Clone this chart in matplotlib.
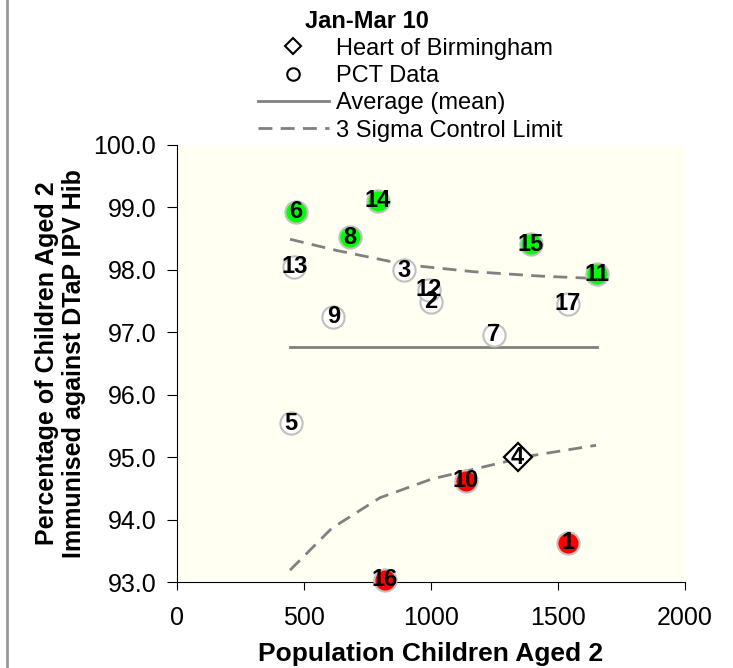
import matplotlib
matplotlib.use("Agg")
import matplotlib.pyplot as plt
from matplotlib.lines import Line2D

# PCT data: id, population aged 2, % immunised, colour class
pct_ids = [1, 2, 3, 5, 6, 7, 8, 9, 10, 11, 12, 13, 14, 15, 16, 17]
pct_pop = [1541, 1000, 895, 449, 467, 1248, 681, 615, 1137, 1652, 992, 462, 790, 1392, 819, 1538]
pct_pct = [93.63, 97.49, 97.99, 95.54, 98.93, 96.96, 98.52, 97.25, 94.62, 97.93, 97.68, 98.05, 99.11, 98.41, 93.04, 97.46]
pct_cls = ["low", "mid", "mid", "mid", "high", "mid", "high", "mid", "low", "high", "mid", "mid", "high", "high", "low", "mid"]

# Heart of Birmingham
hob_id = 4
hob_pop = 1341
hob_pct = 95.0

# mean line
mean_pop = [445, 1655]
mean_pct = [96.76, 96.76]

# 3 sigma control limits
ucl_pop = [445, 629, 904, 1167, 1429, 1655]
ucl_pct = [98.49, 98.31, 98.08, 97.97, 97.90, 97.86]
lcl_pop = [445, 609, 799, 1003, 1213, 1390, 1650]
lcl_pct = [93.19, 93.86, 94.35, 94.65, 94.85, 95.02, 95.19]

x_ticks = [0, 500, 1000, 1500, 2000]
y_ticks = [93.0, 94.0, 95.0, 96.0, 97.0, 98.0, 99.0, 100.0]

colours = {"low": "#FF0000", "mid": "#FFFFFF", "high": "#00FF00"}

plt.rcParams["font.family"] = ["Liberation Sans", "DejaVu Sans"]

fig = plt.figure(figsize=(7.33, 6.68), dpi=100)
ax = fig.add_axes([0.2415, 0.1287, 0.693, 0.6543])
ax.set_facecolor("#FFFFF2")

grey = "#808080"
ax.plot(mean_pop, mean_pct, color=grey, lw=2, zorder=2)
ax.plot(ucl_pop, ucl_pct, color=grey, lw=2, dashes=(5, 3), zorder=2)
ax.plot(lcl_pop, lcl_pct, color=grey, lw=2, dashes=(5, 3), zorder=2)

num_font = ["Liberation Sans Narrow", "Liberation Sans", "DejaVu Sans"]
for i, x, y, c in zip(pct_ids, pct_pop, pct_pct, pct_cls):
    ax.plot(x, y, "o", ms=16, mfc=colours[c], mec="#C0C0C0", mew=1.5,
            zorder=3, clip_on=False)
    ax.text(x, y, str(i), ha="center", va="center", fontsize=17,
            fontweight="bold", family=num_font, zorder=4)

ax.plot(hob_pop, hob_pct, "D", ms=14, mfc="white", mec="black", mew=1.6, zorder=3)
ax.text(hob_pop, hob_pct, str(hob_id), ha="center", va="center", fontsize=17,
        fontweight="bold", family=num_font, zorder=4)

ax.set_xlim(0, 2000)
ax.set_ylim(93, 100)
ax.set_xticks(x_ticks)
ax.set_yticks(y_ticks)
ax.set_yticklabels([f"{v:.1f}" for v in y_ticks])
ax.spines["top"].set_visible(False)
ax.spines["right"].set_visible(False)
ax.tick_params(axis="x", direction="out", length=6, pad=11, labelsize=18)
ax.tick_params(axis="y", direction="out", length=7, pad=8, labelsize=18)

ax.set_xlabel("Population Children Aged 2", fontsize=19, fontweight="bold", labelpad=9)
ax.set_ylabel("Percentage of Children Aged 2\nImmunised against DTaP IPV Hib",
              fontsize=18, fontweight="bold", labelpad=5)

handles = [
    Line2D([], [], ls="none", marker="D", ms=8, mfc="white", mec="black", mew=1.5),
    Line2D([], [], ls="none", marker="o", ms=9, mfc="white", mec="black", mew=1.5),
    Line2D([], [], color=grey, lw=2),
    Line2D([], [], color=grey, lw=2, dashes=(5, 3)),
]
labels = ["Heart of Birmingham", "PCT Data", "Average (mean)", "3 Sigma Control Limit"]
fig.legend(handles, labels, loc="upper left", bbox_to_anchor=(0.352, 0.9435),
           frameon=False, fontsize=17, borderpad=0, handlelength=3.0,
           handletextpad=0.3, labelspacing=0.225, borderaxespad=0)
fig.text(0.5007, 0.968, "Jan-Mar 10", ha="center", va="center",
         fontsize=17, fontweight="bold")

fig.add_artist(Line2D([7 / 733, 7 / 733], [0, 1], color="#999999", lw=2,
                      transform=fig.transFigure))

fig.savefig("out.png", dpi=100)
